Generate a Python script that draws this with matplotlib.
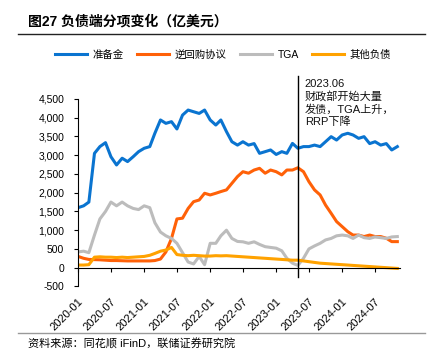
import matplotlib
matplotlib.use('Agg')
import matplotlib.pyplot as plt
import matplotlib.ticker as mticker
import pandas as pd

plt.rcParams['font.family'] = ['Liberation Sans', 'Noto Sans CJK SC', 'DejaVu Sans']
plt.rcParams['axes.unicode_minus'] = False

# monthly readings, 2020-01 .. 2024-11 (亿美元)
dates = pd.date_range('2020-01-01', periods=59, freq='MS')

reserves = [1600, 1650, 1750, 3050, 3230, 3335, 2960, 2740, 2920, 2830,
            2960, 3095, 3185, 3230, 3585, 3940, 3850, 3895, 3700, 4070,
            4205, 4160, 4115, 4205, 3940, 3805, 3940, 3630, 3360, 3270,
            3360, 3270, 3310, 3050, 3095, 3140, 3020, 3095, 3050, 3315,
            3185, 3230, 3230, 3270, 3230, 3360, 3495, 3405, 3540, 3585,
            3540, 3450, 3495, 3310, 3360, 3270, 3310, 3140, 3230]

rrp = [300, 250, 220, 215, 210, 200, 190, 190, 185, 180,
       180, 180, 180, 180, 190, 230, 420, 780, 1300, 1320,
       1580, 1760, 1805, 1985, 1940, 1985, 2030, 2075, 2250, 2430,
       2560, 2520, 2605, 2650, 2520, 2605, 2560, 2475, 2605, 2605,
       2665, 2560, 2295, 2075, 1940, 1670, 1450, 1230, 1095, 960,
       870, 870, 830, 870, 830, 830, 785, 695, 695]

tga = [420, 440, 400, 870, 1300, 1500, 1750, 1650, 1750, 1650,
       1580, 1550, 1650, 1600, 1200, 950, 850, 780, 650, 400,
       150, 100, 300, 80, 650, 650, 850, 1000, 780, 700,
       690, 650, 690, 620, 560, 540, 520, 450, 250, 120,
       60, 250, 500, 580, 650, 740, 780, 850, 870, 850,
       780, 870, 800, 780, 820, 800, 780, 820, 830]

other = [70, 70, 80, 280, 290, 280, 280, 270, 280, 270,
         280, 290, 300, 330, 380, 440, 470, 540, 350, 330,
         320, 330, 320, 310, 310, 320, 315, 320, 310, 300,
         290, 280, 270, 260, 250, 240, 230, 220, 210, 200,
         200, 180, 160, 140, 120, 110, 100, 90, 80, 70,
         60, 50, 40, 30, 20, 10, 0, -10, -20]

names = ['准备金', '逆回购协议', 'TGA', '其他负债']
colors = ['#0a74d0', '#ff6108', '#bcbcbc', '#ffa200']

event_date = pd.Timestamp('2023-05-01')
event_text = '2023.06\n财政部开始大量\n发债，TGA上升，\nRRP下降'

fig = plt.figure(figsize=(4.32, 3.61), dpi=100)
ax = fig.add_axes([0.1806, 0.2066, 0.745, 0.5192])

for vals, name, c in zip([reserves, rrp, tga, other], names, colors):
    ax.plot(dates, vals, color=c, lw=2.2, label=name, solid_joinstyle='round')

ax.set_ylim(-500, 4500)
ax.set_xlim(dates[0], pd.Timestamp('2024-11-15'))
ax.yaxis.set_major_locator(mticker.MultipleLocator(500))
ax.yaxis.set_major_formatter(mticker.FuncFormatter(lambda v, p: f'{int(v):,}'))

xt = pd.date_range('2020-01-01', '2024-07-01', freq='6MS')
ax.set_xticks(xt)
ax.xaxis.set_major_formatter(mticker.FixedFormatter([d.strftime('%Y-%m') for d in xt]))

for s in ['top', 'right']:
    ax.spines[s].set_visible(False)
ax.spines['bottom'].set_position(('data', 0))
ax.spines['left'].set_linewidth(0.8)
ax.spines['bottom'].set_linewidth(0.8)
ax.tick_params(axis='y', labelsize=7.5, length=3, width=0.8, pad=7)
ax.tick_params(axis='x', labelsize=8, length=3, width=0.8, pad=18, labelrotation=45)
for lab in ax.get_xticklabels():
    lab.set_ha('right')
    lab.set_va('top')
    lab.set_rotation_mode('anchor')

ax.plot([event_date, event_date], [0.05, 1.123], color='black', lw=1,
        transform=ax.get_xaxis_transform(), clip_on=False)
ax.text(0.705, 1.107, event_text, transform=ax.transAxes, fontsize=8,
        va='top', ha='left', linespacing=1.25, color='#111111')

fig.text(28 / 432, 1 - 21 / 361, '图27 负债端分项变化（亿美元）', fontsize=10,
         fontweight='bold', va='center', ha='left')
fig.add_artist(plt.Line2D([18 / 432, 425 / 432], [1 - 34 / 361] * 2, color='#222222', lw=1))
fig.add_artist(plt.Line2D([18 / 432, 425 / 432], [1 - 333 / 361] * 2, color='#999999', lw=1))
fig.text(28 / 432, 1 - 344 / 361, '资料来源：同花顺 iFinD，联储证券研究院', fontsize=8,
         va='center', ha='left')

fig.legend(loc='center', bbox_to_anchor=(223 / 432, 1 - 55 / 361), ncol=4,
           frameon=False, fontsize=7.5, handlelength=3.1, handletextpad=0.5,
           columnspacing=1.3)

fig.savefig('out.png', dpi=100)
